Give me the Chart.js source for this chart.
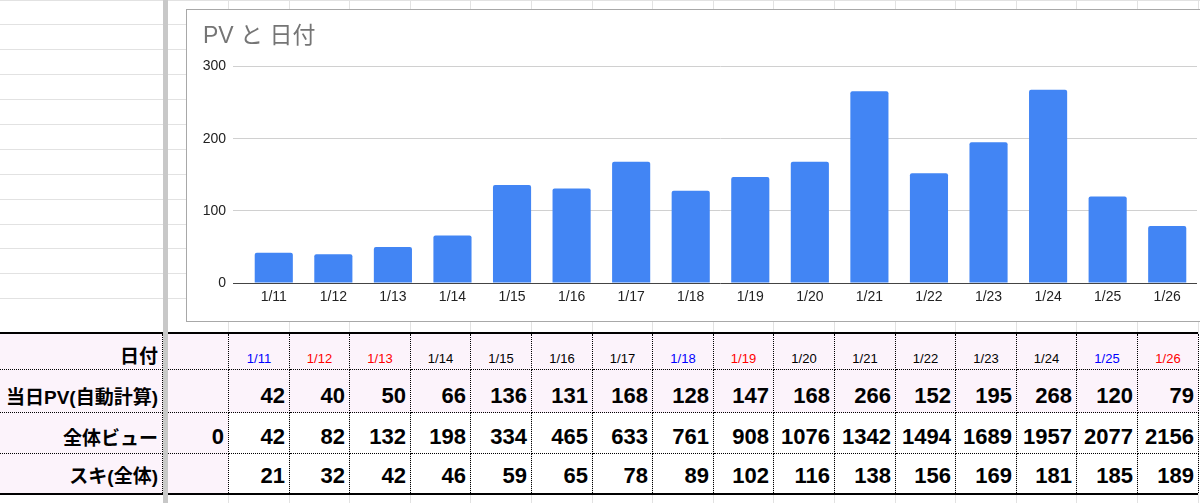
<!DOCTYPE html>
<html lang="ja">
<head>
<meta charset="utf-8">
<script src="https://cdn.jsdelivr.net/npm/chart.js@4.4.1/dist/chart.umd.min.js"></script>
<style>
  html, body { margin: 0; padding: 0; overflow: hidden; }
  body {
    width: 1200px; height: 503px; position: relative; background: #fff;
    font-family: "Liberation Sans", "Noto Sans CJK JP", sans-serif;
  }
  .hl { position: absolute; left: 0; width: 1200px; height: 1px; background: #e2e2e2; }
  .vl { position: absolute; top: 0; width: 1px; height: 503px; background: #e2e2e2; }
  .thick { position: absolute; left: 0; width: 1198px; height: 2px; background: #000; z-index: 3; }
  #freeze { position: absolute; left: 163px; top: 0; width: 5px; height: 503px; background: #c8c8c8; z-index: 4; }
  #chartBox {
    position: absolute; left: 186px; top: 9px; width: 1030px; height: 311px;
    border: 1px solid #a8a8a8; background: #fff; z-index: 2;
  }
  #chartWrap { position: relative; width: 1030px; height: 311px; }
  .cell {
    position: absolute; box-sizing: border-box; display: flex; align-items: flex-end;
    justify-content: flex-end; line-height: 1; white-space: nowrap; color: #000;
    border-right: 1px dotted #000; z-index: 2;
  }
</style>
</head>
<body>
<div id="freeze"></div>
<div id="chartBox"><div id="chartWrap"><canvas id="pvChart"></canvas></div></div>
<script>
// chart + table data
const dates = ['1/11', '1/12', '1/13', '1/14', '1/15', '1/16', '1/17', '1/18',
               '1/19', '1/20', '1/21', '1/22', '1/23', '1/24', '1/25', '1/26'];
const dateColors = ['#0000ff', '#ff0000', '#ff0000', '#000', '#000', '#000', '#000', '#0000ff',
                    '#ff0000', '#000', '#000', '#000', '#000', '#000', '#0000ff', '#ff0000'];
const dailyPV = [42, 40, 50, 66, 136, 131, 168, 128, 147, 168, 266, 152, 195, 268, 120, 79];
const totalStart = 0;
const totalViews = [42, 82, 132, 198, 334, 465, 633, 761, 908, 1076, 1342, 1494, 1689, 1957, 2077, 2156];
const sukiTotal = [21, 32, 42, 46, 59, 65, 78, 89, 102, 116, 138, 156, 169, 181, 185, 189];
const rowLabels = ['日付', '当日PV(自動計算)', '全体ビュー', 'スキ(全体)'];
const chartTitle = 'PV と 日付';

// sheet background grid
const colX = [];
for (let k = 0; k <= dates.length; k++) colX.push(Math.round(228 + 60.6 * k));

function addDiv(cls, style) {
  const d = document.createElement('div');
  d.className = cls;
  Object.assign(d.style, style);
  document.body.appendChild(d);
  return d;
}

addDiv('hl', { top: '0px' });
for (let k = 0; k < 12; k++) addDiv('hl', { top: Math.round(24.3 + 24.9 * k) + 'px' });
colX.forEach(x => addDiv('vl', { left: x + 'px' }));

// table
const rowTop = [334, 370, 413, 454];
const rowH = [36, 43, 41, 39];
const baseOff = [6.3, 8, 8, 9.7];   // baseline distance from cell bottom
addDiv('thick', { top: '332px' });
addDiv('thick', { top: '493px' });

function addCell(left, right, r, text, opt) {
  const fs = opt.size;
  const d = addDiv('cell', {
    left: left + 'px', top: rowTop[r] + 'px',
    width: (right - left + 1) + 'px', height: rowH[r] + 'px',
    background: opt.bg || 'transparent',
    fontSize: fs + 'px', fontWeight: opt.bold ? 'bold' : 'normal',
    color: opt.color || '#000',
    justifyContent: opt.center ? 'center' : 'flex-end',
    paddingRight: opt.center ? '0px' : '4px',
    paddingBottom: Math.max(0, baseOff[r] - 0.1535 * fs).toFixed(1) + 'px',
    borderBottom: r < 3 ? '1px dotted #000' : 'none'
  });
  d.textContent = text;
}

const pink = '#fcf3fb';
for (let r = 0; r < 4; r++) {
  addCell(0, 162, r, rowLabels[r], { size: 19, bold: true, bg: pink });
  addCell(168, 228, r, r === 2 ? String(totalStart) : '', { size: 22, bold: true, bg: pink });
}
dates.forEach((d, i) => {
  const L = colX[i] + 1, R = colX[i + 1];
  addCell(L, R, 0, d, { size: 13, center: true, color: dateColors[i], bg: pink });
  addCell(L, R, 1, String(dailyPV[i]), { size: 22, bold: true, bg: pink });
  addCell(L, R, 2, String(totalViews[i]), { size: 22, bold: true });
  addCell(L, R, 3, String(sukiTotal[i]), { size: 22, bold: true });
});

// chart
const ctx = document.getElementById('pvChart').getContext('2d');
Chart.defaults.font.family = "'Liberation Sans', 'Noto Sans CJK JP', sans-serif";
Chart.defaults.color = '#222';

new Chart(ctx, {
  type: 'bar',
  data: {
    labels: dates,
    datasets: [{
      label: 'PV',
      data: dailyPV,
      backgroundColor: '#4285f4',
      barPercentage: 0.64,
      categoryPercentage: 1,
      borderRadius: 2,
      borderSkipped: 'bottom'
    }]
  },
  options: {
    responsive: true,
    maintainAspectRatio: false,
    animation: false,
    layout: { padding: { left: 16, right: 20, top: 0, bottom: 10 } },
    plugins: {
      legend: { display: false },
      tooltip: { enabled: false },
      title: {
        display: true,
        text: chartTitle,
        align: 'start',
        color: '#757575',
        font: { size: 23, weight: 'normal' },
        padding: { top: 13, bottom: 16 }
      }
    },
    scales: {
      x: {
        grid: { display: false, drawTicks: false },
        border: { display: false },
        ticks: { autoSkip: false, maxRotation: 0, padding: 6, font: { size: 14 }, color: '#222' },
        afterFit: s => { s.height = 28; }
      },
      y: {
        min: 0,
        max: 300,
        grid: {
          color: c => (c.tick && c.tick.value === 0) ? '#444' : '#d0d0d0',
          tickLength: 11,
          drawTicks: true
        },
        border: { display: false },
        ticks: { stepSize: 100, padding: 7, font: { size: 14 }, color: '#222' },
        afterFit: s => { s.width = 41; }
      }
    }
  }
});
</script>
</body>
</html>
